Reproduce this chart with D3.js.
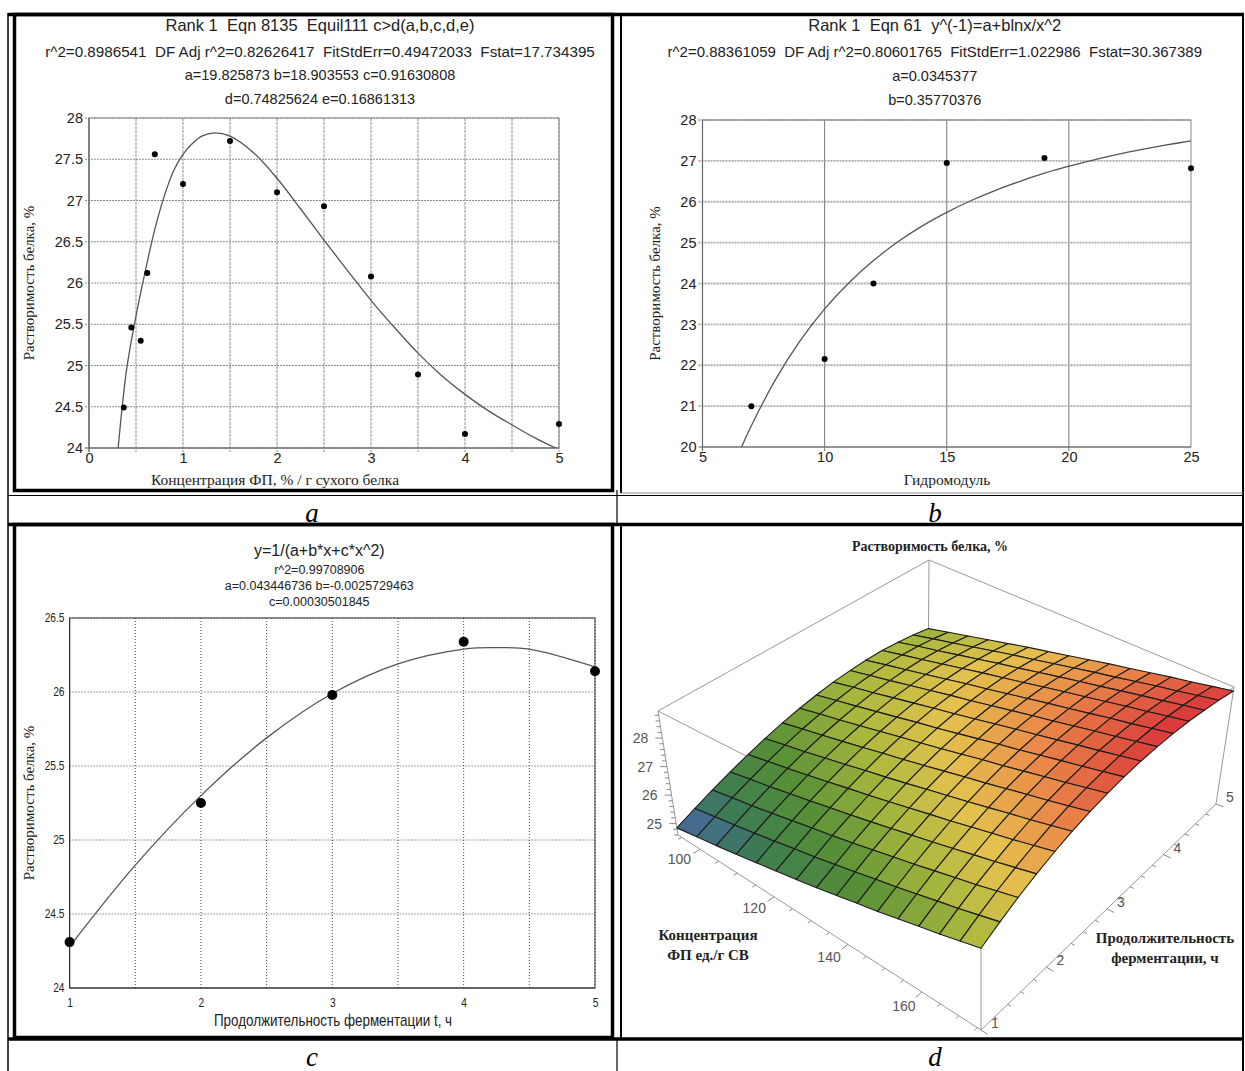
<!DOCTYPE html>
<html>
<head>
<meta charset="utf-8">
<title>Растворимость белка</title>
<script src="https://d3js.org/d3.v7.min.js"></script>
<style>
  body { margin: 0; background: #fff; }
  svg { font-family: "Liberation Sans", Arial, sans-serif; }
</style>
</head>
<body>
<svg width="1245" height="1071"></svg>
<script>
// ---- panel a: concentration of enzyme vs solubility
const aConc = [0.37, 0.45, 0.55, 0.62, 0.7, 1, 1.5, 2, 2.5, 3, 3.5, 4, 5];
const aSol = [24.49, 25.46, 25.3, 26.12, 27.56, 27.2, 27.72, 27.1, 26.93, 26.08, 24.89, 24.17, 24.29];
const aFitX = [0.31, 0.4, 0.5, 0.6, 0.7, 0.8, 0.9, 1.0, 1.1, 1.2, 1.33, 1.5, 1.75, 2.0, 2.25, 2.5, 2.75, 3.0, 3.25, 3.5, 3.75, 4.0, 4.25, 4.5, 4.75, 5.0];
const aFitY = [24.0, 24.95, 25.6, 26.15, 26.65, 27.05, 27.36, 27.56, 27.69, 27.78, 27.82, 27.78, 27.58, 27.27, 26.9, 26.52, 26.15, 25.79, 25.46, 25.15, 24.88, 24.65, 24.45, 24.28, 24.12, 23.98];
const aXTicks = [0, 1, 2, 3, 4, 5];
const aYTicks = [24, 24.5, 25, 25.5, 26, 26.5, 27, 27.5, 28];

// ---- panel b: hydromodule
const bHydro = [7, 10, 12, 15, 19, 25];
const bSol = [21, 22.15, 24, 26.95, 27.07, 26.82];
const bFitX = [6.6, 7, 8, 9, 10, 11, 12, 13, 14, 15, 16, 17, 18, 19, 20, 21, 22, 23, 24, 25];
const bFitY = [20.0, 20.52, 21.66, 22.6, 23.38, 24.02, 24.56, 25.02, 25.41, 25.74, 26.03, 26.28, 26.5, 26.7, 26.87, 27.02, 27.16, 27.28, 27.39, 27.49];
const bXTicks = [5, 10, 15, 20, 25];
const bYTicks = [20, 21, 22, 23, 24, 25, 26, 27, 28];

// ---- panel c: fermentation time
const cTime = [1, 2, 3, 4, 5];
const cSol = [24.31, 25.25, 25.98, 26.34, 26.14];
const cFitX = [1, 1.5, 2, 2.5, 3, 3.5, 4, 4.25, 4.5, 5];
const cFitY = [24.28, 24.83, 25.3, 25.69, 25.99, 26.19, 26.29, 26.3, 26.29, 26.17];
const cXTicks = [1, 2, 3, 4, 5];
const cYTicks = [24, 24.5, 25, 25.5, 26, 26.5];

// ---- panel d: response surface (rows = concentration, columns = time)
const dConc = [94, 99.5, 104.9, 110.4, 115.9, 121.3, 126.8, 132.3, 137.7, 143.2, 148.7, 154.1, 159.6, 165.1, 170.5, 176];
const dTime = [1, 1.27, 1.53, 1.8, 2.07, 2.33, 2.6, 2.87, 3.13, 3.4, 3.67, 3.93, 4.2, 4.47, 4.73, 5];
const dSol = [
  [24.85, 25.15, 25.43, 25.69, 25.93, 26.14, 26.33, 26.49, 26.62, 26.73, 26.80, 26.85, 26.87, 26.85, 26.81, 26.74],
  [24.99, 25.29, 25.57, 25.83, 26.07, 26.28, 26.47, 26.63, 26.76, 26.87, 26.94, 26.99, 27.01, 26.99, 26.95, 26.88],
  [25.12, 25.42, 25.70, 25.96, 26.20, 26.41, 26.60, 26.76, 26.89, 27.00, 27.07, 27.12, 27.14, 27.12, 27.08, 27.01],
  [25.26, 25.56, 25.84, 26.10, 26.34, 26.55, 26.74, 26.90, 27.03, 27.14, 27.21, 27.26, 27.28, 27.26, 27.22, 27.15],
  [25.40, 25.70, 25.98, 26.24, 26.48, 26.69, 26.88, 27.04, 27.17, 27.28, 27.35, 27.40, 27.42, 27.40, 27.36, 27.29],
  [25.54, 25.84, 26.12, 26.38, 26.62, 26.83, 27.02, 27.18, 27.31, 27.42, 27.49, 27.54, 27.56, 27.54, 27.50, 27.43],
  [25.67, 25.97, 26.25, 26.51, 26.75, 26.96, 27.15, 27.31, 27.44, 27.55, 27.62, 27.67, 27.69, 27.67, 27.63, 27.56],
  [25.81, 26.11, 26.39, 26.65, 26.89, 27.10, 27.29, 27.45, 27.58, 27.69, 27.76, 27.81, 27.83, 27.81, 27.77, 27.70],
  [25.95, 26.25, 26.53, 26.79, 27.03, 27.24, 27.43, 27.59, 27.72, 27.83, 27.90, 27.95, 27.97, 27.95, 27.91, 27.84],
  [26.09, 26.39, 26.67, 26.93, 27.17, 27.38, 27.57, 27.73, 27.86, 27.97, 28.04, 28.09, 28.11, 28.09, 28.05, 27.98],
  [26.22, 26.52, 26.80, 27.06, 27.30, 27.51, 27.70, 27.86, 27.99, 28.10, 28.17, 28.22, 28.24, 28.22, 28.18, 28.11],
  [26.36, 26.66, 26.94, 27.20, 27.44, 27.65, 27.84, 28.00, 28.13, 28.24, 28.31, 28.36, 28.38, 28.36, 28.32, 28.25],
  [26.50, 26.80, 27.08, 27.34, 27.58, 27.79, 27.98, 28.14, 28.27, 28.38, 28.45, 28.50, 28.52, 28.50, 28.46, 28.39],
  [26.63, 26.93, 27.21, 27.47, 27.71, 27.92, 28.11, 28.27, 28.40, 28.51, 28.58, 28.63, 28.65, 28.63, 28.59, 28.52],
  [26.77, 27.07, 27.35, 27.61, 27.85, 28.06, 28.25, 28.41, 28.54, 28.65, 28.72, 28.77, 28.79, 28.77, 28.73, 28.66],
  [26.91, 27.21, 27.49, 27.75, 27.99, 28.20, 28.39, 28.55, 28.68, 28.79, 28.86, 28.91, 28.93, 28.91, 28.87, 28.80]
];
const dZTicks = [25, 26, 27, 28];
const dConcTicks = [100, 120, 140, 160];
const dTimeTicks = [1, 2, 3, 4, 5];

const svg = d3.select("svg");
const serif = '"Liberation Serif", "Times New Roman", serif';
const sans = '"Liberation Sans", Arial, sans-serif';

// ---------- table frame ----------
const frame = svg.append("g").attr("fill", "none").attr("stroke", "#000");
frame.append("line").attr("x1", 8).attr("x2", 8).attr("y1", 13).attr("y2", 1071).attr("stroke-width", 1.5);
frame.append("line").attr("x1", 1243).attr("x2", 1243).attr("y1", 13).attr("y2", 1071).attr("stroke-width", 2);
frame.append("line").attr("x1", 617).attr("x2", 617).attr("y1", 490).attr("y2", 525).attr("stroke-width", 1.2);
frame.append("line").attr("x1", 617).attr("x2", 617).attr("y1", 1038).attr("y2", 1071).attr("stroke-width", 1.2);
frame.append("line").attr("x1", 8).attr("x2", 1244).attr("y1", 14.5).attr("y2", 14.5).attr("stroke-width", 3.5);
frame.append("line").attr("x1", 8).attr("x2", 1244).attr("y1", 495.5).attr("y2", 495.5).attr("stroke-width", 1.2);
frame.append("line").attr("x1", 8).attr("x2", 1244).attr("y1", 524.5).attr("y2", 524.5).attr("stroke-width", 3.5);
frame.append("line").attr("x1", 8).attr("x2", 1244).attr("y1", 1039).attr("y2", 1039).attr("stroke-width", 3.5);
frame.append("rect").attr("x", 14.5).attr("y", 14.5).attr("width", 598).attr("height", 476).attr("stroke-width", 3.5);
frame.append("rect").attr("x", 14.5).attr("y", 524.5).attr("width", 598).attr("height", 513).attr("stroke-width", 3.5);
frame.append("line").attr("x1", 621).attr("x2", 621).attr("y1", 14).attr("y2", 493).attr("stroke-width", 2);
frame.append("line").attr("x1", 621).attr("x2", 1243).attr("y1", 493).attr("y2", 493).attr("stroke-width", 1).attr("stroke", "#888");
frame.append("line").attr("x1", 621).attr("x2", 621).attr("y1", 524).attr("y2", 1039).attr("stroke-width", 2);

const captions = [["a", 312, 522], ["b", 935, 522], ["c", 312, 1066], ["d", 935, 1066]];
svg.selectAll("text.caption").data(captions).join("text")
  .attr("class", "caption")
  .attr("x", d => d[1]).attr("y", d => d[2])
  .attr("text-anchor", "middle")
  .attr("font-family", serif).attr("font-style", "italic").attr("font-size", 27)
  .text(d => d[0]);

// ---------- 2D panels ----------
function drawXY(p) {
  const x = d3.scaleLinear().domain(p.xDom).range(p.xRng);
  const y = d3.scaleLinear().domain(p.yDom).range(p.yRng);
  const [x0, x1] = p.xRng, [y0, y1] = p.yRng;
  const g = svg.append("g");

  g.append("clipPath").attr("id", p.id).append("rect")
    .attr("x", x0).attr("y", y1 - 1).attr("width", x1 - x0).attr("height", y0 - y1 + 1);

  g.append("g").selectAll("line").data(p.xGrid).join("line")
    .attr("x1", d => x(d)).attr("x2", d => x(d))
    .attr("y1", y1).attr("y2", y0 + p.stub)
    .attr("stroke", p.vGrid[0]).attr("stroke-width", p.vGrid[1]).attr("stroke-dasharray", p.vGrid[2]);
  g.append("g").selectAll("line").data(p.yGrid).join("line")
    .attr("x1", x0 - p.stub).attr("x2", x1)
    .attr("y1", d => y(d)).attr("y2", d => y(d))
    .attr("stroke", p.hGrid[0]).attr("stroke-width", p.hGrid[1]).attr("stroke-dasharray", p.hGrid[2]);

  g.append("rect").attr("x", x0).attr("y", y1).attr("width", x1 - x0).attr("height", y0 - y1)
    .attr("fill", "none").attr("stroke", p.boxColor).attr("stroke-width", 1);
  g.append("line").attr("x1", x0).attr("x2", x0).attr("y1", y1).attr("y2", y0 + p.stub)
    .attr("stroke", p.axisColor).attr("stroke-width", 1.2);
  g.append("line").attr("x1", x0 - p.stub).attr("x2", x1).attr("y1", y0).attr("y2", y0)
    .attr("stroke", p.axisColor).attr("stroke-width", 1.2);

  const xa = g.append("g").attr("transform", `translate(0,${y0})`)
    .call(d3.axisBottom(x).tickValues(p.xTicks).tickSize(0).tickPadding(p.xPad).tickFormat(d3.format("")));
  const ya = g.append("g").attr("transform", `translate(${x0},0)`)
    .call(d3.axisLeft(y).tickValues(p.yTicks).tickSize(0).tickPadding(p.yPad).tickFormat(d3.format("")));
  [xa, ya].forEach(a => {
    a.select(".domain").remove();
    a.attr("font-family", sans).attr("font-size", p.tickSize);
    a.selectAll("text").attr("fill", "#222").attr("transform", `scale(${p.squeeze},1)`);
  });

  g.append("path").datum(d3.zip(p.fitX, p.fitY))
    .attr("clip-path", `url(#${p.id})`)
    .attr("fill", "none").attr("stroke", p.curveColor).attr("stroke-width", p.curveWidth)
    .attr("d", d3.line().x(d => x(d[0])).y(d => y(d[1])).curve(d3.curveCatmullRom));

  g.append("g").selectAll("circle").data(d3.zip(p.ptX, p.ptY)).join("circle")
    .attr("cx", d => x(d[0])).attr("cy", d => y(d[1])).attr("r", p.r).attr("fill", "#000");

  g.append("g").selectAll("text").data(p.header).join("text")
    .attr("x", (x0 + x1) / 2 + p.headerShift).attr("y", d => d[1])
    .attr("text-anchor", "middle").style("white-space", "pre")
    .attr("font-family", sans).attr("font-size", d => d[2]).attr("fill", "#222")
    .text(d => d[0]);

  g.append("text").attr("transform", `translate(${p.xTitle[1]},${p.xTitle[2]}) scale(${p.xTitleSqueeze},1)`)
    .attr("text-anchor", "middle")
    .attr("font-family", p.xTitleFont).attr("font-size", p.xTitleSize).attr("fill", "#222").text(p.xTitle[0]);
  g.append("text").attr("transform", `translate(${p.yTitle[1]},${(y0 + y1) / 2}) rotate(-90)`)
    .attr("text-anchor", "middle")
    .attr("font-family", serif).attr("font-size", p.yTitleSize).attr("fill", "#222").text(p.yTitle[0]);
}

const halfSteps = (a, b, s) => d3.range(a, b + s / 2, s);

drawXY({
  id: "clipA", xDom: [0, 5], yDom: [24, 28], xRng: [89, 559], yRng: [448, 118],
  xGrid: halfSteps(0, 5, 0.5), yGrid: halfSteps(24, 28, 0.5), stub: 4,
  vGrid: ["#8c8c8c", 1, "3,1"], hGrid: ["#8c8c8c", 1, "2,1"], boxColor: "#888", axisColor: "#666",
  xTicks: aXTicks, yTicks: aYTicks, xPad: 5, yPad: 6, tickSize: 14.5, squeeze: 1,
  fitX: aFitX, fitY: aFitY, curveColor: "#555", curveWidth: 1.3,
  ptX: aConc, ptY: aSol, r: 3,
  headerShift: -4,
  header: [["Rank 1  Eqn 8135  Equil111 c>d(a,b,c,d,e)", 31, 16.5],
           ["r^2=0.8986541  DF Adj r^2=0.82626417  FitStdErr=0.49472033  Fstat=17.734395", 57, 15.2],
           ["a=19.825873 b=18.903553 c=0.91630808", 80, 14.5],
           ["d=0.74825624 e=0.16861313", 104, 14.5]],
  xTitle: ["Концентрация ФП, % / г сухого белка", 275, 484.5], xTitleFont: serif, xTitleSize: 15.5, xTitleSqueeze: 1,
  yTitle: ["Растворимость белка, %", 34], yTitleSize: 15
});

drawXY({
  id: "clipB", xDom: [5, 25], yDom: [20, 28], xRng: [702.5, 1191], yRng: [447, 120],
  xGrid: [10, 15, 20], yGrid: bYTicks.slice(1), stub: 4,
  vGrid: ["#777", 1, null], hGrid: ["#aaa", 1.8, "2,1"], boxColor: "#888", axisColor: "#666",
  xTicks: bXTicks, yTicks: bYTicks, xPad: 5, yPad: 6, tickSize: 14.5, squeeze: 1,
  fitX: bFitX, fitY: bFitY, curveColor: "#555", curveWidth: 1.3,
  ptX: bHydro, ptY: bSol, r: 3,
  headerShift: -12,
  header: [["Rank 1  Eqn 61  y^(-1)=a+blnx/x^2", 31, 16.5],
           ["r^2=0.88361059  DF Adj r^2=0.80601765  FitStdErr=1.022986  Fstat=30.367389", 57, 15],
           ["a=0.0345377", 81, 14.5],
           ["b=0.35770376", 105, 14.5]],
  xTitle: ["Гидромодуль", 947, 484.5], xTitleFont: serif, xTitleSize: 15.5, xTitleSqueeze: 1,
  yTitle: ["Растворимость белка, %", 660], yTitleSize: 15
});

drawXY({
  id: "clipC", xDom: [1, 5], yDom: [24, 26.5], xRng: [69.6, 595], yRng: [988, 618],
  xGrid: halfSteps(1.5, 5, 0.5), yGrid: halfSteps(24.5, 26.5, 0.5), stub: 0,
  vGrid: ["#444", 1, "1,2"], hGrid: ["#444", 1, "1,2"], boxColor: "#333", axisColor: "#333",
  xTicks: cXTicks, yTicks: cYTicks, xPad: 10, yPad: 6, tickSize: 12, squeeze: 0.85,
  fitX: cFitX, fitY: cFitY, curveColor: "#555", curveWidth: 1.3,
  ptX: cTime, ptY: cSol, r: 5,
  headerShift: -13,
  header: [["y=1/(a+b*x+c*x^2)", 556, 16],
           ["r^2=0.99708906", 574, 12.5],
           ["a=0.043446736 b=-0.0025729463", 590, 12.5],
           ["c=0.00030501845", 606, 12.5]],
  xTitle: ["Продолжительность ферментации t, ч", 333, 1026], xTitleFont: sans, xTitleSize: 16, xTitleSqueeze: 0.84,
  yTitle: ["Растворимость белка, %", 34], yTitleSize: 15
});

// ---------- panel d: 3D surface ----------
const box = { c: [94, 176], t: [1, 5], z: [24.6, 28.95] };
// screen corners of the plot box: [cmin,tmin], [cmax,tmin], [cmax,tmax], [cmin,tmax]
const bottomFace = [[678, 835], [981, 1030], [1216, 804], [928, 695]];
const topFace = [[658, 711], [981, 876], [1234, 687], [929, 560]];
const cS = d3.scaleLinear().domain(box.c).range([0, 1]);
const tS = d3.scaleLinear().domain(box.t).range([0, 1]);
const zS = d3.scaleLinear().domain(box.z).range([0, 1]);
const depthWarp = 0.155;
const lerp = (p, q, f) => [p[0] + (q[0] - p[0]) * f, p[1] + (q[1] - p[1]) * f];
function proj(c, t, z) {
  const u = cS(c), tv = tS(t), w = zS(z);
  const v = (1 + depthWarp) * tv / (1 + depthWarp * tv);
  const face = f => lerp(lerp(f[0], f[1], u), lerp(f[3], f[2], u), v);
  return lerp(face(bottomFace), face(topFace), w);
}

const dColor = d3.scaleLinear()
  .domain([24.85, 25.5, 26.2, 26.9, 27.5, 28.1, 28.9])
  .range(["#4a63ae", "#3c7b52", "#579036", "#a9b83e", "#e4c24e", "#ea8c4a", "#d9363a"]);

const dg = svg.append("g");
const [c0, c1] = box.c, [t0, t1] = box.t, [z0, z1] = box.z;
const boxEdges = [
  [[c0, t0, z0], [c0, t0, z1]], [[c1, t0, z0], [c1, t0, z1]], [[c1, t1, z0], [c1, t1, z1]], [[c0, t1, z0], [c0, t1, z1]],
  [[c0, t0, z1], [c1, t0, z1]], [[c1, t0, z1], [c1, t1, z1]], [[c1, t1, z1], [c0, t1, z1]], [[c0, t1, z1], [c0, t0, z1]],
  [[c0, t0, z0], [c1, t0, z0]], [[c1, t0, z0], [c1, t1, z0]]
];
dg.append("g").selectAll("line").data(boxEdges).join("line")
  .each(function (e) {
    const a = proj(...e[0]), b = proj(...e[1]);
    d3.select(this).attr("x1", a[0]).attr("y1", a[1]).attr("x2", b[0]).attr("y2", b[1]);
  })
  .attr("stroke", "#999").attr("stroke-width", 1);

// ticks
const unit = (a, b) => { const dx = a[0] - b[0], dy = a[1] - b[1], l = Math.hypot(dx, dy); return [dx / l, dy / l]; };
const ticks = [];
halfSteps(24.6, 28.8, 0.2).forEach(z => {
  const p = proj(c0, t0, z), major = Math.abs(z - Math.round(z)) < 0.01;
  ticks.push([p, [-1, 0], major ? 7 : 4]);
});
halfSteps(95, 175, 5).forEach(c => {
  const p = proj(c, t0, z0), dir = unit(p, proj(c, t0 + 0.4, z0));
  ticks.push([p, dir, c % 20 === 0 ? 8 : 4]);
});
halfSteps(1, 5, 0.2).forEach(t => {
  const p = proj(c1, t, z0), dir = unit(p, proj(c1 - 15, t, z0));
  ticks.push([p, dir, Math.abs(t - Math.round(t)) < 0.01 ? 8 : 4]);
});
dg.append("g").selectAll("line").data(ticks).join("line")
  .attr("x1", d => d[0][0]).attr("y1", d => d[0][1])
  .attr("x2", d => d[0][0] + d[1][0] * d[2]).attr("y2", d => d[0][1] + d[1][1] * d[2])
  .attr("stroke", "#888").attr("stroke-width", 1);

// surface quads, far to near
const quads = [];
for (let i = 0; i < dConc.length - 1; i++) {
  for (let j = 0; j < dTime.length - 1; j++) {
    const nodes = [[i, j], [i + 1, j], [i + 1, j + 1], [i, j + 1]];
    quads.push({
      pts: nodes.map(([a, b]) => proj(dConc[a], dTime[b], dSol[a][b])),
      z: d3.mean(nodes, ([a, b]) => dSol[a][b]),
      depth: i - j
    });
  }
}
quads.sort((p, q) => p.depth - q.depth);
dg.append("g").selectAll("path").data(quads).join("path")
  .attr("d", d => "M" + d.pts.map(p => p.join(",")).join("L") + "Z")
  .attr("fill", d => dColor(d.z))
  .attr("stroke", "#1c1c1c").attr("stroke-width", 1.1).attr("stroke-linejoin", "round");

// tick labels
dg.append("g").selectAll("text").data(dZTicks).join("text")
  .attr("x", d => proj(c0, t0, d)[0] - 14).attr("y", d => proj(c0, t0, d)[1] + 5)
  .attr("text-anchor", "end").attr("font-family", sans).attr("font-size", 14).attr("fill", "#555")
  .text(d => d);
dg.append("g").selectAll("text").data(dConcTicks).join("text")
  .each(function (c) {
    const p = proj(c, t0, z0), dir = unit(p, proj(c, t0 + 0.4, z0));
    d3.select(this).attr("x", p[0] + dir[0] * 24).attr("y", p[1] + dir[1] * 24 + 3);
  })
  .attr("text-anchor", "middle").attr("font-family", sans).attr("font-size", 14).attr("fill", "#555")
  .text(d => d);
dg.append("g").selectAll("text").data(dTimeTicks).join("text")
  .each(function (t) {
    const p = proj(c1, t, z0);
    d3.select(this).attr("x", p[0] + 14).attr("y", p[1] - 2);
  })
  .attr("text-anchor", "middle").attr("font-family", sans).attr("font-size", 14).attr("fill", "#555")
  .text(d => d);

const dLabels = [
  ["Растворимость белка, %", 930, 551, 14],
  ["Концентрация", 708, 940, 15], ["ФП ед./г СВ", 708, 960, 15],
  ["Продолжительность", 1165, 943, 15], ["ферментации, ч", 1165, 963, 15]
];
dg.append("g").selectAll("text").data(dLabels).join("text")
  .attr("x", d => d[1]).attr("y", d => d[2]).attr("text-anchor", "middle")
  .attr("font-family", serif).attr("font-weight", "bold").attr("font-size", d => d[3]).attr("fill", "#222")
  .text(d => d[0]);
</script>
</body>
</html>
